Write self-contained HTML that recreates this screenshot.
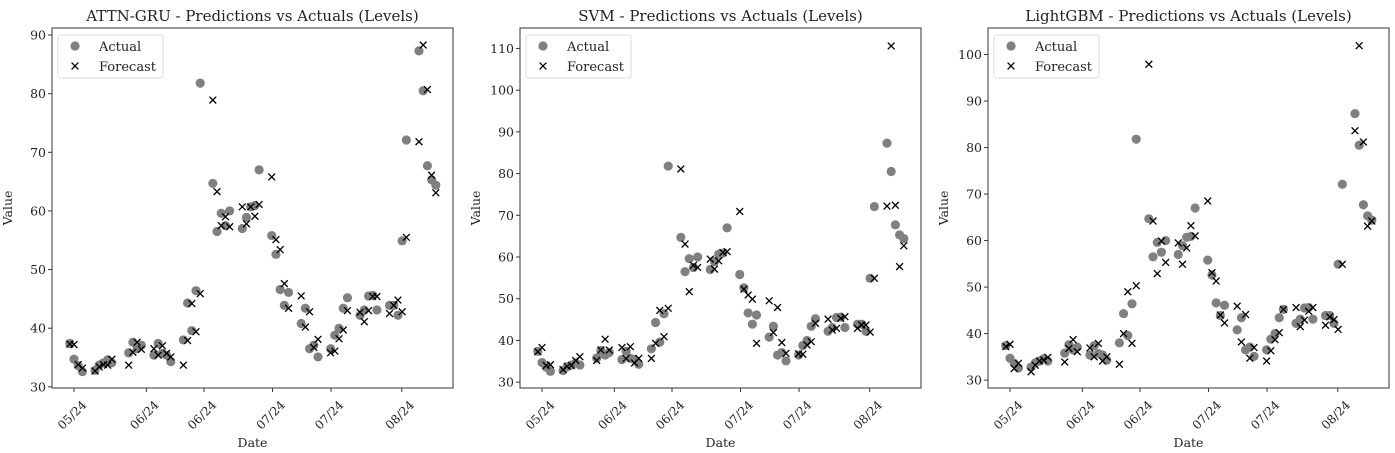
<!DOCTYPE html>
<html><head><meta charset="utf-8"><style>
html,body{margin:0;padding:0;background:#fff;}
svg{display:block;font-family:"DejaVu Serif","Liberation Serif",serif;}
</style></head><body>
<svg id="chart" width="1395" height="453" viewBox="0 0 1395 453" xmlns="http://www.w3.org/2000/svg"></svg>
<script>
const days=[-1,0,1,2,5,6,7,8,9,13,14,15,16,19,20,21,22,23,26,27,28,29,30,33,34,35,36,37,40,41,42,43,44,47,48,49,50,51,54,55,56,57,58,61,62,63,64,65,68,69,70,71,72,75,76,77,78,79,82,83,84,85,86];
const actualVals=[37.4,34.7,33.6,32.6,32.8,33.7,34.1,34.6,34.1,35.8,37.6,36.5,37.1,35.4,37.4,35.7,35.4,34.3,38.0,44.3,39.6,46.4,81.8,64.7,56.5,59.6,57.5,60.0,57.0,58.9,60.7,60.9,67.0,55.8,52.6,46.6,43.9,46.1,40.8,43.4,36.5,37.1,35.1,36.5,38.8,40.0,43.4,45.2,42.2,43.1,45.5,45.6,43.1,43.9,43.9,42.2,54.9,72.1,87.3,80.5,67.7,65.3,64.4];
const gruVals=[37.3,37.2,33.8,33.2,32.7,33.4,33.8,33.7,34.7,33.7,35.9,37.6,36.4,36.5,35.4,37.0,35.7,35.1,33.7,37.9,44.2,39.4,45.9,78.9,63.3,57.5,59.0,57.3,60.7,57.8,60.7,59.1,61.1,65.8,55.1,53.4,47.6,43.4,45.5,40.2,42.8,36.7,38.1,35.8,36.1,38.2,39.7,43.0,42.7,41.1,43.0,45.4,45.4,42.5,43.9,44.8,42.8,55.5,71.8,88.3,80.7,66.1,63.1];
const svmVals=[37.3,38.3,34.0,34.2,33.0,33.8,34.0,35.2,36.1,35.2,37.7,40.3,37.7,38.3,35.7,38.5,34.6,35.7,35.7,39.3,47.2,40.9,47.7,81.1,63.1,51.7,58.0,57.5,59.5,57.1,59.1,61.1,61.3,70.9,52.3,50.9,49.9,39.3,49.5,41.9,47.9,39.5,36.9,36.8,36.7,38.9,39.7,44.1,45.1,42.5,42.9,45.3,45.7,42.9,43.7,43.7,42.0,54.9,72.2,110.6,72.4,57.7,62.7];
const lgbmVals=[37.2,37.7,32.5,33.6,31.8,33.2,34.1,34.3,34.9,33.9,36.8,38.7,36.1,36.9,35.0,37.9,34.1,35.0,33.4,40.0,49.0,37.9,50.3,97.9,64.2,52.9,59.9,55.3,59.5,54.9,58.4,63.2,61.0,68.5,53.1,51.3,44.0,42.3,45.9,38.2,44.1,34.7,37.0,34.1,36.3,38.7,40.2,45.2,45.6,41.5,42.9,44.8,45.6,41.8,43.6,43.0,40.9,54.9,83.6,101.9,81.2,63.1,64.2];
const xTickDays=[0,17.2,30.9,47.2,61.1,77.9];
const xTickLabels=["05/24","06/24","06/24","07/24","07/24","08/24"];
const panelTitles=["ATTN-GRU - Predictions vs Actuals (Levels)","SVM - Predictions vs Actuals (Levels)","LightGBM - Predictions vs Actuals (Levels)"];
const yTicks1=[30,40,50,60,70,80,90];
const yTicks2=[30,40,50,60,70,80,90,100,110];
const yTicks3=[30,40,50,60,70,80,90,100];
const yDomain1=[29.8,91.2];
const yDomain2=[28.6,114.9];
const yDomain3=[28.3,105.7];

const NS="http://www.w3.org/2000/svg";
const svg=document.getElementById('chart');
function mk(tag,attrs,parent){const e=document.createElementNS(NS,tag);for(const k in attrs)e.setAttribute(k,attrs[k]);(parent||svg).appendChild(e);return e;}
const panels=[
 {left:52,forecast:gruVals,ticks:yTicks1,dom:yDomain1,key:'attn-gru'},
 {left:520,forecast:svmVals,ticks:yTicks2,dom:yDomain2,key:'svm'},
 {left:988,forecast:lgbmVals,ticks:yTicks3,dom:yDomain3,key:'lightgbm'}
];
const TOP=28,BOT=388,W=401;
panels.forEach((p,pi)=>{
 const g=mk('g',{});
 
 
 const xs=d=>p.left+22+d*4.207;
 const ys=v=>BOT-(v-p.dom[0])/(p.dom[1]-p.dom[0])*(BOT-TOP);
 const t=mk('text',{x:p.left+W/2,y:21,'text-anchor':'middle','font-size':'15',fill:'#222'},g);
 t.textContent=panelTitles[pi];
 
 
 p.ticks.forEach(v=>{
  const y=ys(v);
  mk('line',{x1:p.left-4,x2:p.left,y1:y,y2:y,stroke:'#333','stroke-width':1},g);
  const tl=mk('text',{x:p.left-6,y:y+4.5,'text-anchor':'end','font-size':'12.5',fill:'#222'},g);
  tl.textContent=v;
  
  
 });
 xTickDays.forEach((d,i)=>{
  const x=xs(d);
  mk('line',{x1:x,x2:x,y1:BOT,y2:BOT+4,stroke:'#333','stroke-width':1},g);
  const ax=x+1,ay=BOT+30;
  const tl=mk('text',{x:ax,y:ay,'text-anchor':'middle','font-size':'12',fill:'#222',transform:`rotate(-45 ${ax} ${ay})`},g);
  tl.textContent=xTickLabels[i];
  
  
 });
 const xl=mk('text',{x:p.left+W/2,y:447,'text-anchor':'middle','font-size':'12.5',fill:'#222'},g);
 xl.textContent='Date';
 
 
 const yl=mk('text',{x:0,y:0,'text-anchor':'middle','font-size':'12.5',fill:'#222',transform:`translate(${p.left-40},208) rotate(-90)`},g);
 yl.textContent='Value';
 
 
 days.forEach((d,i)=>{
  const c=mk('circle',{cx:xs(d),cy:ys(actualVals[i]),r:4.6,fill:'#808080'},g);
  
  
 });
 days.forEach((d,i)=>{
  const x=xs(d),y=ys(p.forecast[i]),s=3.4;
  const m=mk('path',{d:`M${x-s},${y-s}L${x+s},${y+s}M${x-s},${y+s}L${x+s},${y-s}`,stroke:'#000','stroke-width':1.3,fill:'none'},g);
  
  
 });
 mk('rect',{x:p.left,y:TOP,width:W,height:BOT-TOP,fill:'none',stroke:'#333','stroke-width':1},g);
 const lg=mk('g',{},g);
 
 
 const lx=p.left+6;
 mk('rect',{x:lx,y:35,width:105,height:43,rx:2,fill:'#fff','fill-opacity':0.8,stroke:'#ddd'},lg);
 mk('circle',{cx:lx+17,cy:46,r:4.6,fill:'#808080'},lg);
 const a=lx+17,b=66,s=3.4;
 mk('path',{d:`M${a-s},${b-s}L${a+s},${b+s}M${a-s},${b+s}L${a+s},${b-s}`,stroke:'#000','stroke-width':1.3},lg);
 const t1=mk('text',{x:lx+41,y:51,'font-size':'13',fill:'#222'},lg);t1.textContent='Actual';
 
 
 const t2=mk('text',{x:lx+41,y:71,'font-size':'13',fill:'#222'},lg);t2.textContent='Forecast';
 
 
});
</script>
</body></html>
